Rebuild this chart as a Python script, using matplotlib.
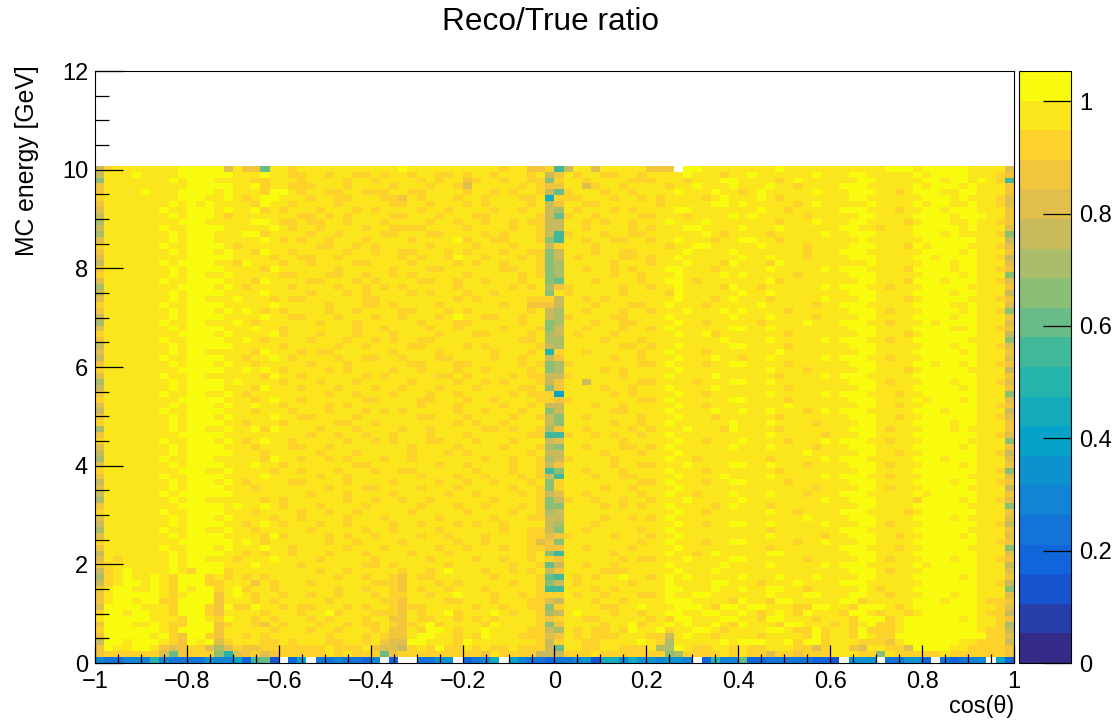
import numpy as np
import matplotlib
matplotlib.use('Agg')
import matplotlib.pyplot as plt
from matplotlib.colors import LinearSegmentedColormap, ListedColormap

plt.rcParams['font.family'] = ['Liberation Sans', 'DejaVu Sans']

# one string per energy bin, top bin first, one code per cos(theta) bin
# 0-9a-j = contour level of the ratio, . = empty bin, x = taken from gap_left / gap_right
ratio_rows = [
    "ehiiiiiiij jjjjfiggbi ihiiiiiiii iiijiiiiii iiiihiiggx xeiifiiiii ggg.jjiiii iiiijiiiii iiiiiijjji jjjjjiiiif",
    "eiiijiiiij jjjjjiiiji ihhiihiihh ihiihiihhi hiihiiihix xihiihhiih iiiijiiihi ijiiiiiiji iijjiiiiij ijjjjiiihg",
    "ciiiiiiiji jjjiiiihhi iihiiiihii hiiiihihii ghiihiihhx xiihiiiihh hiiihiiijj iiiihijiii iiijjiiiii jjijjijiha",
    "giiiiiiiii jjjjjiijhi ihhhiiihii iihiiihiih fiiiiihihx xiifhiihii iihiijiiij iiijiihiii ijjjiiiiij ijjjijiiig",
    "giiiijiiij jjjijiiihj jihiihhiih hhiihhiiii hiihihiihx xhiiihiihi iiijiiijii hijiiiiiji iijjjiihij jjiijjiiig",
    "hiiiiiiiij jjiijihijj iiihiihhii ihhgihiiih iihiiihhix xhhiiihiih ihiiiihiji iijihiiiii iijjiiiiii jjjijiiihf",
    "giiiiiiiji jijiiiihji ihiiiihiii iihhiihiii hihiiiihix xiihhiiiii ihiiiiijji jiiiiihiji iiiijiiiij ijjiijiihf",
    "fiiiiiijii jjjijiijhi hiiihiiihi hiiiihiihi iiihiihiix xihiiihihi iiijjiiiii iijiihiiii ijjjiiihii jjijjjiiig",
    "eiiiiiiiji jjjihiiiii iihhihihii iihhiiihii ihhiiiiihx xhiihiiiih hiiihiiiij ijiiiiihii iiijjiiiij jjjijjjiig",
    "diiiiiiiij jjiiiiijji hhihhiihii ihiiiihiih iihiihihhx xiihihiihi iijiiijiii iiiihiiiji iijjiiiihi jjjiijiihg",
    "eiiiiiijii jjjjiiiiij ihiihiiiih iihhhhiiii hiiiihiihx xiihiiiihi hiiijjiiii jiiijiiiii ijjiihiiij jjjjijiiif",
    "diiiiiiiji jjjiiijjhi iiihiihiii ihhiiihhii iihihiiihx xhiiihiihh iiiiiijihi iiihiiiiij iijjjiiiij jjijiiiihc",
    "fiiiiiiiji jjjiiiiiji hihiihiiih iiiihiiiij hiihhiiihx xiihiihhii hiijiiihii jjiihiiiii iiijiiiiii jjjjjjiiie",
    "hiiiiiijii jjjjihiiii iiiihhiihi hiiiiihiii ihiiihiiix xiiihiiiii iihiijjiii iijiiiihii iijjjiiihj ijjjjiiihf",
    "giiiiiiiji jjjijiihji ihiiiiihii hiihhiiihi hiiihiihhx xiiihiihhi iiiijiiiij iiiiiiihii ijjjiiiiii jjjjijiiig",
    "fiiiiiiiii jjjjjiiiih iihhiihiii iiihihiihj iihiiihihx xihiiiihhi hiijiiiiii jiijiiihii iijjjiiiij jijjjjiihe",
    "eiiiiiijij jjjiihjiii hiihiiiihh iiiihiiiih ihiihiiihx xiiiiihiii hiiijiiihj iiihjiiiii iiiijiiiii jjjijjiiif",
    "giiiiiiiji jjjjiiiihj iiiiiihiii iihiiihhii iiiihhiihx xiihiihihi iijjiiihii iiijiiiiij ijjjiiiihj jjjijjiihg",
    "hiiiiiiiji jjiijiiiii hhiiihhiih iihihiiiii hiiiiihihx xiiiiihiih iiijiiiiji jiiiiihiii iijjjiiiii jjjjijiiic",
    "fiiiiiijii jjjjiiihji iiihhiiihi hiiiihhiih iihiiihiix xiiihiiiih iijjihiiii iiijhiiiii iiijjiiihj jjijjjiihf",
    "diiiiiiiij jjjijihiii ihiiiihiih ihihiiiiih iiiiihihix xhiiiiihii hiijiiiihj iihiiiiiij ijjjiihiii jjjjjiiiig",
    "eiiiiiiiji jjjjiiiiji iiihiiihih iiiihihiii hiihiiiiix xhiiiiihii iihjiiiiii jiijiiiiii iijjjiiiij jjjijjiiie",
    "fiiiiiiiji jjiiijiiih ihhiiiiiih hiiiiiiiih ihiiiiihhx xiihihiiii iiijiiihij iiihiiiiij iiijjiiihi jjjjjiiihg",
    "hiiiiiijii jjjjiiiiij iiiiihiiih hihiiiihii iiiihiiggx xiiihiiihh iijiiihiii iijiiiiihi ijjjiiiiij jjjiijiiif",
    "giiiiiiiji jjjijijihi hiiiihiihi iiihhiiihi hiiiiiihix xiihiiihii hiiijiiiji jiiiihiiii iijjjihiii jjjjijiihc",
    "eiiiiiiiji jjjjiiiiji ihhiiihiii hiihiiihij iihhiihiix xhiiiihhii iijiiiiiij iiijiiiihi iiijjiiiij jjjijjiiig",
    "diiiiiijii jjiiijihii iiiihiiihi iiiiihiiih hiiiiihiix xiiihiihhi iiijiihiii iihiiiijii ijjjiihiii jijjjjiiif",
    "fiiiiiiiji jjjjiiijii hiiiiiiihi ihiiiihiih iiiihiiihx xiihiiihii hijiiiiiij jiijiiiiii iijjjiiiij jjjiijiihg",
    "hiiiiiiiij jjjijiiiij hiiihiiihi iihiiiihii ihhiiiihix xihiiihiii iiijiijhii iiiiihiiii iiijjiiihi jjjjjjiiie",
    "giiiiiijii jjjjiijihi iiihiiihii hihiihhiii iiiiiihhix xiiiihiiih iiiiiiiiji iiijiiiiij ijjjiihiij jjjjjiiiic",
    "eiiiiiiiji jjjjjiiiii hiiiiihiih iiiihhiiii hihiiiiihx xiiiiiihhi hiijiiiiij jiiiihiiii iijjjiiiii jjjijjiihf",
    "fiiiiiiiji jjiiiiihji iihihhiiii iihiiiihii iiihiiihix xiihiiiiih iijiiihiii iiiijiiiii iiijjiiiij jjjjijiiig",
    "eiiiiiijii jjjjiihiij ihiiiihiih hiihiiihhi iiihiihiix xiiiiihiih iiijiiijii hiijiiiiij ijjjiihiii jjjjjjiiif",
    "giiiiiiiji jjjijiihii iiihiiihii iiiihhiiih hiiiiihihx xhiiiiiiih hijiiihiij jiiiihiiii iijjjiiiij jijjijiihg",
    "hiiiiiiiij jjjjiijiji hiiiihihii iihiihiiih iihiiiihix xiiiihihii iiijiiiiii iiijiiihii iiijjiiihi jjjjjiiiie",
    "fiiiiiijii jjiiiiiihj iihiiiiiih ihiiiiihhi hiiiihihhx xhiiiiihii iijiiiijii iiiihiiiij ijjjiiiiij jjjjjjiiig",
    "diiiiiiiji jjjjijiiii hiiihiiihi iiiihiiiih iihihiiihx xiieiiiiih hiiiihiiij jiijiiiiii iijjjihiii jjjijjiihf",
    "eiiiiiiiji jjjjiiihji iihiiihiii hiihiiihii ihiiiihhix xiiiihiihi iijiiiijii iiiiihiiii iiijjiiiij jjjjijiiig",
    "giiiiiijii jjiijihiii iiiiihiihi iihiiihiih iiiiihihhx xiiiiihihi iiijiihiii iiijiiiiij ijjjiiihii jjjjjjiiic",
    "hiiiiiiiij jjjjiiihij iihiiiiiih hiiiihhiii hiihiiiihx xhiiiiiiih hijiiiiiij jiiiihiiii iijjjiiiij ijjjijiiif",
    "fiiiiiiiji jjjijiijii hiiiihihii iiiiihiiih iiiihiihix xiiihiihii iiijiihiii iiiiijiiii iiijjiihii jjjjjjiihg",
    "eiiiiiijii jjjjiiihii ihiiihiiih ihihiiiiih iihiiihiix xiiiiihhii iijiiiijii jiijiiihij ijjjiiiiij jjijjjiiie",
    "giiiiiiiji jjjijiiiij iihhiiiihi iiiiihhiii hiiiihiihx xiihiiiiih iiijiiihii iiiihiiiii iijjjiihii jjjjjjiihf",
    "hiiiiiiiji jjjjiihiii hiiiiihhii hiiiiiiiih ihiihiiiix xiiiiihiih iijiiiiiij iiijiiiihi iiijjiiiij jjjijjiiig",
    "diiiiiiiji jjiijiijhj iiiihiiihi iiihiihiii iihhihiihx xiihiiiihi hiiijiiihj iiiihiiiii iijjjihiii jjjijiiiig",
    "giiiiiiiij jjjjiiiiii iiihiihiih iihiiihiii hiiiiiihhx xhiihihiih iijiiiiiii iiijiiiiih iiijjiiiij jjjjjjiihf",
    "hiiiiiijii jjjijihiji ihiiiiihii hihiiihhii ihiiihiiix xiiiiiihii iiijiihiii jiiiihiiij ijjjiihiii jjjjjiiiic",
    "fiiiiiiiji jjjjiiihii ihhiihiiii iiiihiiiih iiiihiiihx xiihiiihhi hijiiiiiij iiijiiiihi iijjjiiiij jjjjijiiig",
    "eiiiiiiiji jjjjjiiihi iiiihiiihi iiiihiiihi hiiiiiihix xiiiihiiih iiijiiiiii iiiiiiijii iiijjiihii jjjjjjiihe",
    "diiiiiijii jjjiiiiihj iihiihihii ihiihiiiii iihiihiihx xhiiiihiii iijiihiiii iiihiiiiij ijjjiiiiij jjijjjiiif",
    "fiiiiiiiji jjjjiiijii hiiiiiiihh iiiiiiihii hiiiihiihx xiiiiihiih hiiijiiiij jiijiiihii iijjjihiii jjjjijiiig",
    "hiiiiiiiij jjiijiiiih iihiiihiii hiihhiiiii ihiiihiihx xiihiiihii iijiiihiii iiiihiiiii iiijjiiiij jjjjjjiihc",
    "giiiiiijii jjjjiiiiji iiiihiihii iiiiihiiih iihiiihihx xiiihiihhi iiijiiiiji iiijiiiiij ijjjiihiii jjjjjiiiif",
    "eiiiiiiiji jjjijihiii ihhiiiihii iihiiiihii hiihiiihix xiiiiiiiih hijiiihiij jiiiihiiii iijjjiiiij jjjijjiihg",
    "fiiiiiiiji jjjjiiihii iiiiihiiih hiiiihiiih iiiiihiihx xiiiihiihi iiijiiiiii iiiiiiiihi iiijjihiii jjjjjiiiie",
    "eiiiiiijij jjjjjiiiii iiihiiihii iihiiiiihi ihiiiihihx xiihiiiiih iijiihiiij iiijiiihii ijjjiiiiij ijjjjjiiig",
    "diiiiiiiji jjiiiiiihi hiiiiiihii hiihiihiii iiihiiiihx xhiihiihii hiiijiiiii jiiiiiiiij iijjjiiiih jjjjijiihf",
    "giiiiiiiij jjjjijiiji hiiihiiiih iiiiihiiih iihiiihihx xiiiihihih iijiiiihij iiihiiiiii iiijjiiiij jjjjjiiiic",
    "hiiiiiijii jjjjiiihii iihiihiihi iiiihiiiii hiiiihiihx xiiiiiiiii iiijiihiii iiijiihiii ijjjiiiihi jjjjjjiiig",
    "fiiiiiiiji jjjijiiiih iihiiiihii ihiiiiihii iiihiiihhx xiiiihiihi hijiiiiiii iiiiiiijii iijjjiiiij jjjijiiiif",
    "eiiiiiiiji jjjjiihiji hiiihiihii iihiihiiih ihiihiiiix xiiihiiiii iiijiihiij jiijiiiiij iiijjihiii jjjjjjiihe",
    "diiiiiijii jjiijiihii iiihiiiiih iihiiiihii iiiihiihhx xiihiiiiih iijiiiiiii iiihiiiiii ijjjiiiiij jjjjjiiiig",
    "fiiiiiiiji jjjjiiiihj hiiiihihii hiiiihiihi iihiiiihhx xhiiiihiii hiijiiiiii iiijiiiiih iijjjiihii jjjjijiiif",
    "hiiiiiiiij jjjjjijihi iiiiihiihi iiihiiiiih iihiiiihfx xiiiiiiiih iijiiihiij jiiiiihiij iiijjiiiij jjjjjjiihg",
    "giiiiiijii jjjijiiiji ihiiiiihii ihiiiiihii hiiihiihhx xiihiiiihi iiijiiiiii iiihiiiiii ijjjiiihii jjjjjiiiic",
    "eiiiiiiiji jjjjiihihi ihiiihiiih iiiihiiihi iiiiiiihix xiiiiihiii iijiihijii iiijjiiiii iijjjiiiij jjjjjjiiif",
    "fihiiiiiji jjiiihiiij iiiihiiiii hiiiiihiii ihiihiihix xiiiiiihih hiiijiiiij jiiiiiihii iiijjihiii jjjijjiihg",
    "ghiiiiiiji jjjjiiijii iihiiiiiih hihiiiiihi iiiiihiihx xiihiihiii iijiiiiiji iiijiiiiij ijjjiiiiij ijjjjjiiie",
    "ehijiiiiji hjjjhiiiii iiiihiihii iiihiihiji iihiihihix xiiiihhhii iiijiiijii iiiiiiiiii iijjjihiii jjjjjjiiif",
    "dhijiijihj jjhihihihi iiiiiihiih iihgihhiii iiihiiiihx xihihiijii hijijiiiii jiiijiiiji iiijjiiiij jjjjijiiig",
    "ehijjijihj jjhhiiigih iiihiiiiii hhhgiiihih iiiiihiihx xihiiiiihi iijiiiijji iihiiijiii ijjjiiiiii jjjjjjiihe",
    "gijjiijihj ijjhijhiih iiiiiihiih iihgihiihi iihiiiiihx xiiihihiii iijjiiijii jiijjiihii iiijihiiij jjjjjjiiic",
    "gijjjjjihi jjjgijihii hiihiihiii hihhiihiij iiihiihihx xihiihiiih hijiijjiii iiijiiijji iijjiihiii jjjijjiiif",
    "gijjijjhhj jjjgiiihih iiiiihiiii ihhgiiiihh iiihiiihhx xiiihiihii iijjjiiiih jiihjjiiii ijjhiiiiij jjijjjihhg",
    "fjjjjiiihj jjhgjhhjii hihhiiihih iihghhiiii ihiihiihhx xiiiihhiij iiijjjihjj ijjiiihhjj iihjjjihij jjjjjjiihf",
    "hjjijjiihj jjhgiiiihi iihiijhiii hhhgihiijh iiijihiihx xijiiihiih iijjiijjii jihijihjii ihjjihiihi jjjjjjihhe",
    "ijjjjjiiih jjihjiihih iiihihiiih iiggihhiih ihihiiiihx xiihhiiiii hihjjiiijj iihjjiiihi iihjjjhijj jjjjijiihg",
    "gjjjiijihh jjjghiihgi hiiihiihih hihghijhii iihjiiiihx xiiiihiijh iijijiijih jiiihjjiii hihijhhijj jjjjjjiihd",
    "hjjjjjjihj jjjgiiiiih iiihiihiii higgihjjih iijiiiihhx xihihhihji ijhiijjihi iiijjihhjh iihjhhhijj jjjjjjihhe",
    "gjjjjjijhg jjhgiihihi iiiiihiiih ihggijjiih ihjiiihhhx xihihhhiii hheijiihii iihiiiihjh iihjihhjjj jjjjjjjhhf",
    "ejjijjjihg jijfhiiihh ihiiihhiih igffjjiiih jiiiiiiihx xiihhiiiij ihdiiiiiji jjjiijhjjh iiihhhgijj jjjjiihhhe",
    "gjiijjigfg hhfdfhgghh hhhhhihhhi gffehihjhh ihihhihhhx xiihhiihhh iddjihhiih ihhiiihhfh iigfiihhfj jjjiihhhhg",
    "ghhhhhhfbg hhhc9fghfg hhhhhihihh hbghhhhhhh hhgihhhhex xhhhihhhhh hhcdhhhhih ihhfhhghhh iiihhcihhh hhihhhhhhg",
    "5445559544 4465573ab2 .37.445443 5.3..4466. 3458.7544x x456288586 65665.3955 b334444433 2.666.4466 3.43455.73",
]

# the two bins next to cos(theta) = 0, top bin first
gap_left = "hecge8eeee" "eececccccc" "dchgeeccdd" "e9ecceechh" "eceedaeded" "eaecceccde" "eefggchbeb" "cahfcdgcef" "eee3"
gap_right = "aghgbhgdbe" "eaaheedddb" "gieedddeed" "dhgddegg7g" "eeccgafcee" "gcahhfecee" "dcgcgageg" "a" "eahehehgdg" "hbe4"

# axis edges and labels
cos_edges = np.linspace(-1, 1, 101)
energy_edges = np.linspace(0, 10.08, 85)
x_ticks = [-1, -0.8, -0.6, -0.4, -0.2, 0, 0.2, 0.4, 0.6, 0.8, 1]
x_labels = ['\u22121', '\u22120.8', '\u22120.6', '\u22120.4', '\u22120.2', '0', '0.2', '0.4', '0.6', '0.8', '1']
y_ticks = [0, 2, 4, 6, 8, 10, 12]
z_ticks = [0, 0.2, 0.4, 0.6, 0.8, 1]
z_labels = ['0', '0.2', '0.4', '0.6', '0.8', '1']
z_max = 1.054
n_levels = 20

# ROOT kBird palette
bird_stops = [0, 0.125, 0.25, 0.375, 0.5, 0.625, 0.75, 0.875, 1]
bird_colors = [(0.2082, 0.1664, 0.5293), (0.0592, 0.3599, 0.8684), (0.0780, 0.5041, 0.8385),
               (0.0232, 0.6419, 0.7914), (0.1802, 0.7178, 0.6425), (0.5301, 0.7492, 0.4662),
               (0.8186, 0.7328, 0.3499), (0.9956, 0.7862, 0.1968), (0.9764, 0.9832, 0.0539)]
bird = LinearSegmentedColormap.from_list('bird', list(zip(bird_stops, bird_colors)))
palette = ListedColormap([bird(i / (n_levels - 1)) for i in range(n_levels)])

codes = '0123456789abcdefghij'
rows = []
for k, row in enumerate(ratio_rows):
    row = list(row.replace(' ', '').ljust(100, 'i')[:100])
    row[49] = gap_left[k]
    row[50] = gap_right[k]
    rows.append([np.nan if c == '.' else (codes.index(c) + 0.5) * z_max / n_levels for c in row])
ratio = np.array(rows[::-1])

W, H = 1115, 721
fig = plt.figure(figsize=(W / 100, H / 100), dpi=100)
ax = fig.add_axes([95 / W, 1 - 663 / H, 919 / W, 592 / H])
cax = fig.add_axes([1019 / W, 1 - 663 / H, 52 / W, 592 / H])

mesh = ax.pcolormesh(cos_edges, energy_edges, ratio, cmap=palette, vmin=0, vmax=z_max)
ax.set_xlim(-1, 1)
ax.set_ylim(0, 12)

ax.set_xticks(x_ticks)
ax.set_xticklabels(x_labels)
ax.set_xticks(np.arange(-1, 1.01, 0.05), minor=True)
ax.set_yticks(y_ticks)
ax.set_yticks(np.arange(0, 12.01, 0.5), minor=True)
ax.tick_params(axis='x', which='major', direction='in', length=13, width=0.9, labelsize=17, pad=6)
ax.tick_params(axis='x', which='minor', direction='in', length=6.5, width=0.9)
ax.tick_params(axis='y', which='major', direction='in', length=20, width=0.9, labelsize=17, pad=5)
ax.tick_params(axis='y', which='minor', direction='in', length=10, width=0.9)
for s in ax.spines.values():
    s.set_linewidth(0.8)

cb = fig.colorbar(mesh, cax=cax, ticks=z_ticks)
cb.set_ticklabels(z_labels)
cb.ax.tick_params(direction='in', length=20, width=0.9, labelsize=17, pad=6, right=True)
cb.ax.minorticks_off()
cb.outline.set_linewidth(0.8)

fig.text(551 / W, 1 - 22 / H, 'Reco/True ratio', fontsize=22.8, ha='center', va='center')
fig.text(27 / W, 1 - 161 / H, 'MC energy [GeV]', fontsize=17.8, rotation=90, ha='center', va='center')
fig.text(1014 / W, 1 - 706 / H, 'cos(\u03b8)', fontsize=16.8, ha='right', va='center')

fig.savefig('out.png', dpi=100)
